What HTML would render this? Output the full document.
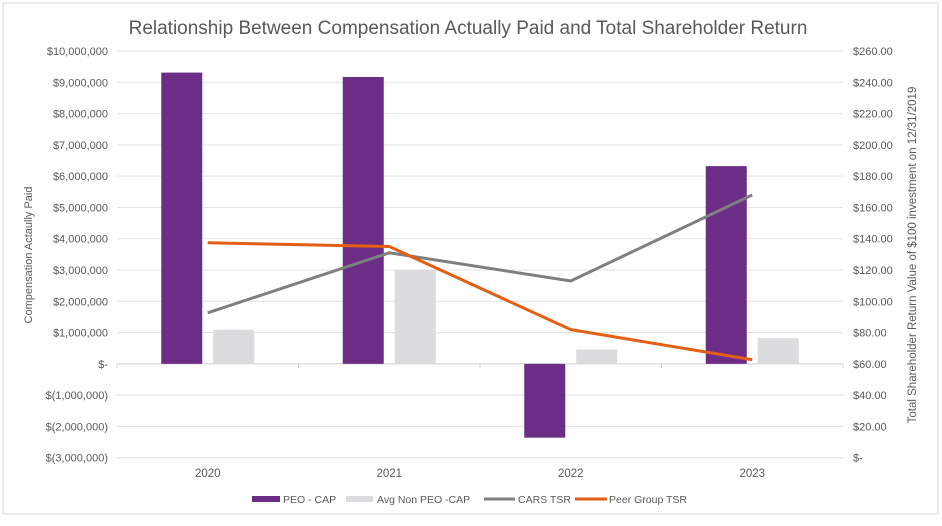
<!DOCTYPE html>
<html><head><meta charset="utf-8"><style>
body{margin:0;background:#fff;}
svg{display:block;font-family:"Liberation Sans",sans-serif;}
</style></head><body>
<svg id="c" width="942" height="526">
<rect x="3" y="3" width="935" height="511" fill="#fff" stroke="#d9d9d9"/>
<text x="468" y="34" text-anchor="middle" font-size="19" fill="#595959">Relationship Between Compensation Actually Paid and Total Shareholder Return</text>
<text transform="translate(32,255) rotate(-90)" text-anchor="middle" font-size="11" fill="#595959">Compensation Actaully Paid</text>
<text transform="translate(916,255) rotate(-90)" text-anchor="middle" font-size="11.5" fill="#595959">Total Shareholder Return Value of $100 investment on 12/31/2019</text>
<g id="grid"></g><g id="bars"></g><g id="lines"></g><g id="labels"></g>
<g font-size="10.5" fill="#595959">
<rect x="252" y="496" width="28" height="6" fill="#6c2d86"/>
<text x="283" y="503">PEO - CAP</text>
<rect x="346" y="496" width="27" height="6" fill="#dcdcde"/>
<text x="377" y="503">Avg Non PEO -CAP</text>
<line x1="484" y1="499" x2="515" y2="499" stroke="#7f7f7f" stroke-width="3"/>
<text x="518" y="503">CARS TSR</text>
<line x1="575" y1="499" x2="607" y2="499" stroke="#e35f13" stroke-width="3"/>
<text x="609" y="503">Peer Group TSR</text>
</g>
</svg>
<script>
const categories=["2020","2021","2022","2023"];
const peoCap=[9310000,9170000,-2360000,6320000];
const avgNonPeoCap=[1090000,2990000,460000,820000];
const carsTsr=[92.6,131,113,168];
const peerTsr=[137.4,135,81.9,62.6];
const leftTicks=[10000000,9000000,8000000,7000000,6000000,5000000,4000000,3000000,2000000,1000000,0,-1000000,-2000000,-3000000];
const leftTickLabels=["$10,000,000","$9,000,000","$8,000,000","$7,000,000","$6,000,000","$5,000,000","$4,000,000","$3,000,000","$2,000,000","$1,000,000","$-","$(1,000,000)","$(2,000,000)","$(3,000,000)"];
const rightTicks=[260,240,220,200,180,160,140,120,100,80,60,40,20,0];
const rightTickLabels=["$260.00","$240.00","$220.00","$200.00","$180.00","$160.00","$140.00","$120.00","$100.00","$80.00","$60.00","$40.00","$20.00","$-"];

const NS="http://www.w3.org/2000/svg";
const X0=117,X1=843,YT=51,YB=457.7;
const yL=v=>YT+(10000000-v)/13000000*(YB-YT);
const yR=v=>YB-v/260*(YB-YT);
const band=(X1-X0)/categories.length;
const xC=i=>X0+band*(i+0.5);
function mk(tag,attrs,parent){const e=document.createElementNS(NS,tag);for(const k in attrs)e.setAttribute(k,attrs[k]);document.getElementById(parent).appendChild(e);return e;}
leftTicks.forEach((v,i)=>{
  const y=yL(v);
  const g=mk('line',{x1:X0,x2:X1,y1:y,y2:y,stroke:v===0?'#d0d0d0':'#e3e3e3','stroke-width':1},'grid');
  
  
  const t=mk('text',{x:108,y:y+4,'text-anchor':'end','font-size':11,fill:'#595959'},'labels');
  t.textContent=leftTickLabels[i];
  
  
});
rightTicks.forEach((v,i)=>{
  const t=mk('text',{x:853,y:yR(v)+4,'font-size':11,fill:'#595959'},'labels');
  t.textContent=rightTickLabels[i];
  
  
});
for(let i=0;i<=categories.length;i++){
  const x=X0+band*i;
  const tk=mk('line',{x1:x,x2:x,y1:yL(0),y2:yL(0)+4,stroke:'#d0d0d0'},'grid');
  
  
}
categories.forEach((c,i)=>{
  const t=mk('text',{x:xC(i),y:477,'text-anchor':'middle','font-size':11.5,fill:'#595959'},'labels');
  t.textContent=c;
  
  
  const bw=41,gap=11;
  const x1=xC(i)-gap/2-bw, x2=xC(i)+gap/2;
  const v=peoCap[i];
  const r=mk('rect',{x:x1,width:bw,y:Math.min(yL(v),yL(0)),height:Math.abs(yL(v)-yL(0)),fill:'#6c2d86'},'bars');
  
  
  const a=avgNonPeoCap[i];
  const r2=mk('rect',{x:x2,width:bw,y:Math.min(yL(a),yL(0)),height:Math.abs(yL(a)-yL(0)),fill:'#dcdcde'},'bars');
  
  
});
const p1=mk('polyline',{points:carsTsr.map((v,i)=>xC(i)+','+yR(v)).join(' '),fill:'none',stroke:'#7f7f7f','stroke-width':3},'lines');


const p2=mk('polyline',{points:peerTsr.map((v,i)=>xC(i)+','+yR(v)).join(' '),fill:'none',stroke:'#e35f13','stroke-width':3},'lines');


</script>
</body></html>
